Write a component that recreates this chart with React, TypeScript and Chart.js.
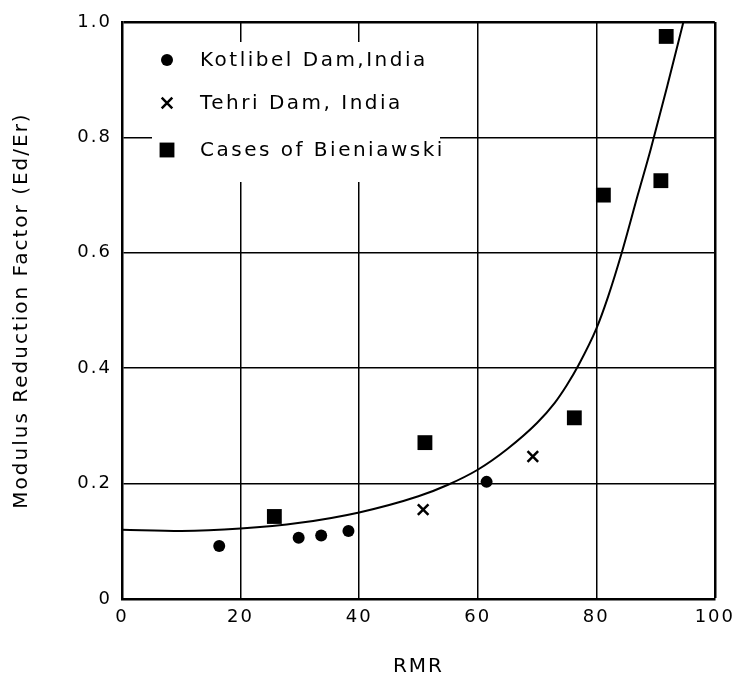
import { useEffect, useRef } from "react";
import { Chart, registerables } from "chart.js";
import { drawPoint } from "chart.js/helpers";
Chart.register(...registerables);

const kotlibelRMR = [16.4, 29.8, 33.6, 38.2, 61.5];
const kotlibelFactor = [0.092, 0.106, 0.11, 0.118, 0.203];
const tehriRMR = [50.8, 69.3];
const tehriFactor = [0.155, 0.247];
const bieniawskiRMR = [25.7, 51.1, 76.3, 81.2, 90.9, 91.8];
const bieniawskiFactor = [0.143, 0.271, 0.314, 0.70, 0.725, 0.975];
const curveRMR = [0, 10, 20, 30, 40, 50, 55, 60, 65, 70, 73, 75, 77, 80, 82, 84.3, 87, 89.2, 92, 94.7];
const curveFactor = [0.12, 0.118, 0.122, 0.132, 0.15, 0.178, 0.198, 0.224, 0.26, 0.305, 0.34, 0.37, 0.405, 0.468, 0.524, 0.6, 0.7, 0.78, 0.89, 1.0];
const xTickLabels = ["0", "20", "40", "60", "80", "100"];
const yTickLabels = ["0", "0.2", "0.4", "0.6", "0.8", "1.0"];
const legendLabels = ["Kotlibel Dam,India", "Tehri Dam, India", "Cases of Bieniawski"];
const xTitle = "RMR";
const yTitle = "Modulus Reduction Factor (Ed/Er)";

const FONT = '"DejaVu Sans", sans-serif';

const spacingPlugin = {
  id: "spacing",
  beforeDraw(chart: any) {
    (chart.ctx as any).letterSpacing = "2px";
  },
};

const legendPlugin = {
  id: "insideLegend",
  afterDraw(chart: any) {
    const ctx = chart.ctx;
    const area = chart.chartArea;
    ctx.save();
    ctx.fillStyle = "#ffffff";
    ctx.fillRect(area.left + 30, area.top + 20, 288, 140);
    const rows = [38, 81, 128];
    const markerX = area.left + 45;
    const textX = area.left + 78;
    for (let i = 0; i < 3; i++) {
      const ds = chart.data.datasets[i + 1];
      const y = area.top + rows[i];
      ctx.fillStyle = "#000";
      ctx.strokeStyle = "#000";
      ctx.lineWidth = ds.borderWidth || 0;
      drawPoint(ctx, { pointStyle: ds.pointStyle, radius: ds.pointRadius, borderWidth: ds.borderWidth || 0, rotation: 0 } as any, markerX, y);
      ctx.fillStyle = "#000";
      (ctx as any).letterSpacing = "2.5px";
      ctx.font = `20px ${FONT}`;
      ctx.textAlign = "left";
      ctx.textBaseline = "middle";
      ctx.fillText(legendLabels[i], textX, y + 1);
    }
    ctx.restore();
  },
};

export default function App() {
  const ref = useRef<HTMLCanvasElement>(null);
  useEffect(() => {
    if (!ref.current) return;
    const toPts = (xs: number[], ys: number[]) => xs.map((x, i) => ({ x, y: ys[i] }));
    const chart = new Chart(ref.current, {
      type: "scatter",
      data: {
        datasets: [
          {
            label: "curve",
            data: toPts(curveRMR, curveFactor),
            showLine: true,
            borderColor: "#000",
            borderWidth: 2,
            pointRadius: 0,
            cubicInterpolationMode: "monotone",
            fill: false,
          } as any,
          {
            label: legendLabels[0],
            data: toPts(kotlibelRMR, kotlibelFactor),
            pointStyle: "circle",
            pointRadius: 6,
            backgroundColor: "#000",
            borderColor: "#000",
            borderWidth: 0,
            clip: false,
          } as any,
          {
            label: legendLabels[1],
            data: toPts(tehriRMR, tehriFactor),
            pointStyle: "crossRot",
            pointRadius: 7.5,
            backgroundColor: "#000",
            borderColor: "#000",
            borderWidth: 2.5,
            clip: false,
          } as any,
          {
            label: legendLabels[2],
            data: toPts(bieniawskiRMR, bieniawskiFactor),
            pointStyle: "rect",
            pointRadius: 10.5,
            backgroundColor: "#000",
            borderColor: "#000",
            borderWidth: 0,
            clip: false,
          } as any,
        ],
      },
      options: {
        animation: false,
        responsive: false,
        devicePixelRatio: 1,
        layout: { padding: { top: 22, right: 16, left: 0, bottom: 0 } },
        plugins: { legend: { display: false }, tooltip: { enabled: false } },
        scales: {
          x: {
            type: "linear",
            min: 0,
            max: 100,
            afterFit: (s: any) => { s.height = 82; },
            ticks: {
              stepSize: 20,
              autoSkip: false,
              color: "#000",
              font: { family: FONT, size: 18 },
              padding: 8,
              maxRotation: 0,
              callback: (_v: any, i: number) => xTickLabels[i],
            },
            grid: {
              color: "#000",
              lineWidth: (c: any) => (c.index === 5 ? 2.5 : 1.5),
              drawTicks: false,
            },
            border: { color: "#000", width: 2.5 },
            title: {
              display: true,
              text: xTitle,
              color: "#000",
              font: { family: FONT, size: 20 },
              padding: { top: 0, bottom: 2 },
            },
          },
          y: {
            type: "linear",
            min: 0,
            max: 1,
            afterFit: (s: any) => { s.width = 122; },
            ticks: {
              stepSize: 0.2,
              autoSkip: false,
              color: "#000",
              font: { family: FONT, size: 18 },
              padding: 10,
              callback: (_v: any, i: number) => yTickLabels[i],
            },
            grid: {
              color: "#000",
              lineWidth: (c: any) => (c.index === 5 ? 2.5 : 1.5),
              drawTicks: false,
            },
            border: { color: "#000", width: 2.5 },
            title: {
              display: true,
              text: yTitle,
              color: "#000",
              font: { family: FONT, size: 20 },
              padding: { top: 10, bottom: 0 },
            },
          },
        },
      },
      plugins: [spacingPlugin, legendPlugin],
    });
    return () => chart.destroy();
  }, []);
  return (
    <div style={{ position: "fixed", left: 0, top: 0, width: 740, height: 681, background: "#fff" }}>
      <canvas ref={ref} width={740} height={681} style={{ width: 740, height: 681, display: "block" }} />
    </div>
  );
}
